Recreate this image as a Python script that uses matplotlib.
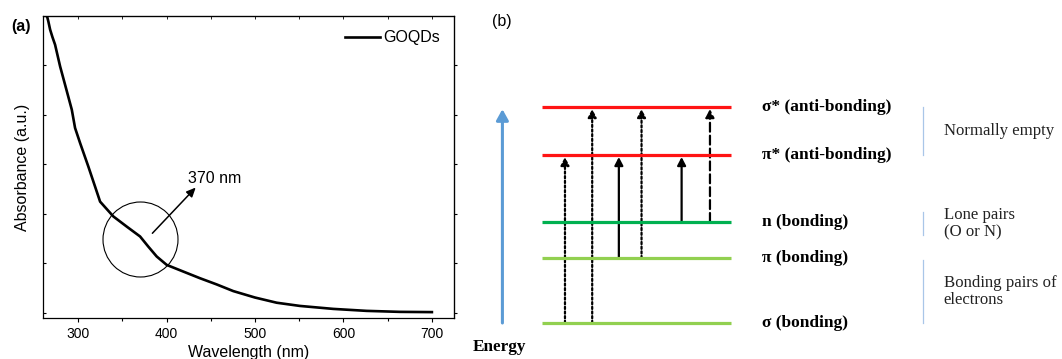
import matplotlib
matplotlib.use("Agg")
import matplotlib.pyplot as plt
from matplotlib.patches import FancyArrowPatch

# ---------------- (a) UV-vis absorption of GOQDs ----------------
wavelength = [260.8, 262.7, 264.5, 266.4, 268.4, 271.0, 274.0, 279.7, 285.3,
              292.9, 296.6, 302.3, 311.6, 319.2, 324.9, 339.9, 355.0, 370.1,
              379.4, 388.9, 400.2, 419.0, 437.9, 456.7, 475.5, 500.0, 524.5,
              550.8, 588.5, 626.2, 663.8, 700.0]
absorbance = [1.25, 1.20, 1.205, 1.178, 1.145, 1.115, 1.084, 0.996, 0.922,
              0.821, 0.747, 0.686, 0.591, 0.510, 0.449, 0.389, 0.348, 0.308,
              0.267, 0.227, 0.193, 0.166, 0.139, 0.114, 0.087, 0.061, 0.040,
              0.027, 0.015, 0.007, 0.003, 0.002]
series_label = "GOQDs"
shoulder_nm = 370
shoulder_abs = 0.296
x_ticks = [300, 400, 500, 600, 700]
y_ticks = [0.0, 0.2, 0.4, 0.6, 0.8, 1.0]

# ---------------- (b) electronic transitions ----------------
level_keys = ["sigma*", "pi*", "n", "pi", "sigma"]
level_labels = ["σ* (anti-bonding)", "π* (anti-bonding)", "n (bonding)",
                "π (bonding)", "σ (bonding)"]
level_energy = [10.0, 7.78, 4.68, 3.0, 0.0]
level_colors = ["#ff1414", "#ff1414", "#00b050", "#92d050", "#92d050"]

transition_from = ["sigma", "sigma", "pi", "pi", "n", "n"]
transition_to = ["pi*", "sigma*", "pi*", "sigma*", "pi*", "sigma*"]
transition_style = ["dotted", "dotted", "solid", "dotted", "solid", "dashed"]

group_labels = ["Normally empty", "Lone pairs\n(O or N)",
                "Bonding pairs of\nelectrons"]
group_top = [10.0, 5.15, 2.92]
group_bottom = [7.78, 4.07, 0.0]

fig = plt.figure(figsize=(10.62, 3.59), dpi=100)
sans = ["Liberation Sans", "DejaVu Sans"]
serif = ["Liberation Serif", "DejaVu Serif"]

# ---------- panel (a) ----------
ax = fig.add_axes([0.0402, 0.1134, 0.3873, 0.8420])
ax.plot(wavelength, absorbance, color="black", lw=1.9, label=series_label)
ax.set_xlim(260, 725)
ax.set_ylim(-0.023, 1.2)
ax.set_xticks(x_ticks)
ax.set_xticks([350, 450, 550, 650], minor=True)
ax.set_yticks(y_ticks)
ax.set_yticklabels([])
for lbl in ax.get_xticklabels():
    lbl.set_fontfamily(sans)
ax.tick_params(axis="x", which="major", direction="out", length=3.2,
               width=0.8, labelsize=10, pad=3)
ax.tick_params(axis="x", which="minor", direction="out", length=2.0, width=0.8)
ax.tick_params(axis="y", which="major", direction="in", length=2.5, width=0.8)
for s in ax.spines.values():
    s.set_linewidth(0.9)

top = ax.secondary_xaxis("top")
top.set_xticks(x_ticks)
top.set_xticks([350, 450, 550, 650], minor=True)
top.tick_params(which="both", direction="in", length=2.0, width=0.6,
                labeltop=False)
right = ax.secondary_yaxis("right")
right.set_yticks(y_ticks)
right.tick_params(direction="out", length=2.5, width=0.8, labelright=False)

ax.set_xlabel("Wavelength (nm)", fontsize=11.5, family=sans)
ax.xaxis.set_label_coords(0.5, -0.089)
ax.set_ylabel("Absorbance (a.u.)", fontsize=11.5, family=sans)
ax.yaxis.set_label_coords(-0.032, 0.5)

ax.plot([shoulder_nm], [shoulder_abs], marker="o", ms=54, mfc="none",
        mec="black", mew=0.8, ls="none")
ax.annotate("", xy=(433, 0.506), xytext=(384, 0.321),
            arrowprops=dict(arrowstyle="-|>,head_length=0.55,head_width=0.25",
                            color="black", lw=1.1, shrinkA=0, shrinkB=0))
ax.text(424, 0.524, f"{shoulder_nm} nm", fontsize=11.5, family=sans,
        va="baseline", ha="left")

leg = ax.legend(loc="upper right", frameon=False, handlelength=2.15,
                handletextpad=0.2, borderaxespad=0.5, borderpad=0.4,
                prop={"family": sans, "size": 11.5})

fig.text(0.011, 0.927, "(a)", fontsize=11.5, fontweight="bold", family=sans,
         va="center", ha="left")

# ---------- panel (b) ----------
bx = fig.add_axes([0.5101, 0.1003, 0.1780, 0.6017])
bx.set_xlim(0, 1)
bx.set_ylim(0, 10)
bx.axis("off")
ymix = bx.get_yaxis_transform()
E = dict(zip(level_keys, level_energy))

for e, c, lab in zip(level_energy, level_colors, level_labels):
    bx.plot([0, 1], [e, e], color=c, lw=2.3, solid_capstyle="butt",
            clip_on=False)
    bx.text(1.164, e, lab, transform=ymix, fontsize=12.5, fontweight="bold",
            family=serif, va="center", ha="left")

arrow_x = [0.123, 0.267, 0.408, 0.528, 0.74, 0.89]
dash_map = {"dotted": (0, (1, 1.1)), "solid": "-", "dashed": (0, (4, 1.8))}
for x, a, b, st in zip(arrow_x, transition_from, transition_to,
                       transition_style):
    arr = FancyArrowPatch((x, E[a]), (x, E[b]), transform=bx.transData,
                          arrowstyle="-|>,head_length=4.8,head_width=2.5",
                          mutation_scale=1, color="black", lw=1.6,
                          linestyle=dash_map[st], shrinkA=0, shrinkB=1.5,
                          clip_on=False)
    bx.add_patch(arr)

# energy axis
energy_arrow = FancyArrowPatch((-0.208, 0.0), (-0.208, 9.9), transform=ymix,
                               arrowstyle="-|>,head_length=6.5,head_width=3.6",
                               mutation_scale=1, color="#5b9bd5", lw=2.2,
                               shrinkA=0, shrinkB=0, clip_on=False)
bx.add_patch(energy_arrow)
bx.text(-0.225, -1.1, "Energy", transform=ymix, fontsize=12.3,
        fontweight="bold", family=serif, va="center", ha="center")
bx.text(-0.265, 13.95, "(b)", transform=ymix, fontsize=11.5, family=sans,
        va="center", ha="left")

# group brackets
for lab, t, b in zip(group_labels, group_top, group_bottom):
    bx.plot([2.019, 2.019], [t, b], transform=ymix, color="#a9c6e8", lw=0.9,
            clip_on=False)
    bx.text(2.126, (t + b) / 2, lab, transform=ymix, fontsize=12.1,
            family=serif, color="#222222", va="center", ha="left",
            linespacing=1.15)

fig.savefig("out.png", dpi=100)
